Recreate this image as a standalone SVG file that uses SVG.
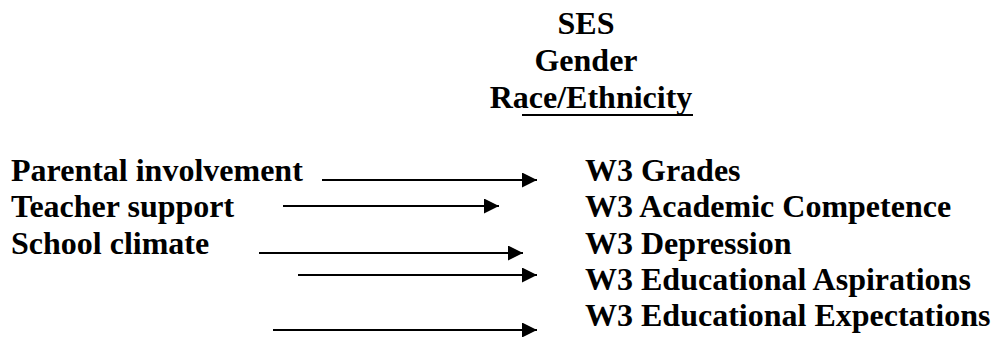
<svg xmlns="http://www.w3.org/2000/svg" width="995" height="337" viewBox="0 0 995 337">
<style>
text{font-family:"Liberation Serif","Times New Roman",serif;font-weight:bold;font-size:32px;fill:#000}
.c{text-anchor:middle}
.a{stroke:#000;stroke-width:2;fill:none;marker-end:url(#ah)}
</style>
<defs>
<marker id="ah" markerUnits="userSpaceOnUse" markerWidth="15" markerHeight="15" refX="15" refY="7.5" orient="auto">
<path d="M0,0 L15,7.5 L0,15 Z" fill="#000"/>
</marker>
</defs>
<rect width="995" height="337" fill="#fff"/>
<g id="covariates">
<text class="c" x="586" y="33.5">SES</text>
<text class="c" x="586" y="71">Gender</text>
<text class="c" x="591" y="108">Race/Ethnicity</text>
<line x1="522" y1="115" x2="693" y2="115" stroke="#000" stroke-width="2"/>
</g>
<g id="predictors">
<text x="11" y="181">Parental involvement</text>
<text x="11" y="217">Teacher support</text>
<text x="11" y="254">School climate</text>
</g>
<g id="outcomes">
<text x="585" y="181">W3 Grades</text>
<text x="585" y="217">W3 Academic Competence</text>
<text x="585" y="254">W3 Depression</text>
<text x="585" y="290">W3 Educational Aspirations</text>
<text x="585" y="326">W3 Educational Expectations</text>
</g>
<g id="connectors">
<line class="a" x1="322" y1="180" x2="537" y2="180"/>
<line class="a" x1="283" y1="206" x2="499" y2="206"/>
<line class="a" x1="259" y1="253" x2="523" y2="253" stroke-width="2.5"/>
<line class="a" x1="298" y1="275" x2="537" y2="275"/>
<line class="a" x1="273" y1="330" x2="537" y2="330"/>
</g>
</svg>
